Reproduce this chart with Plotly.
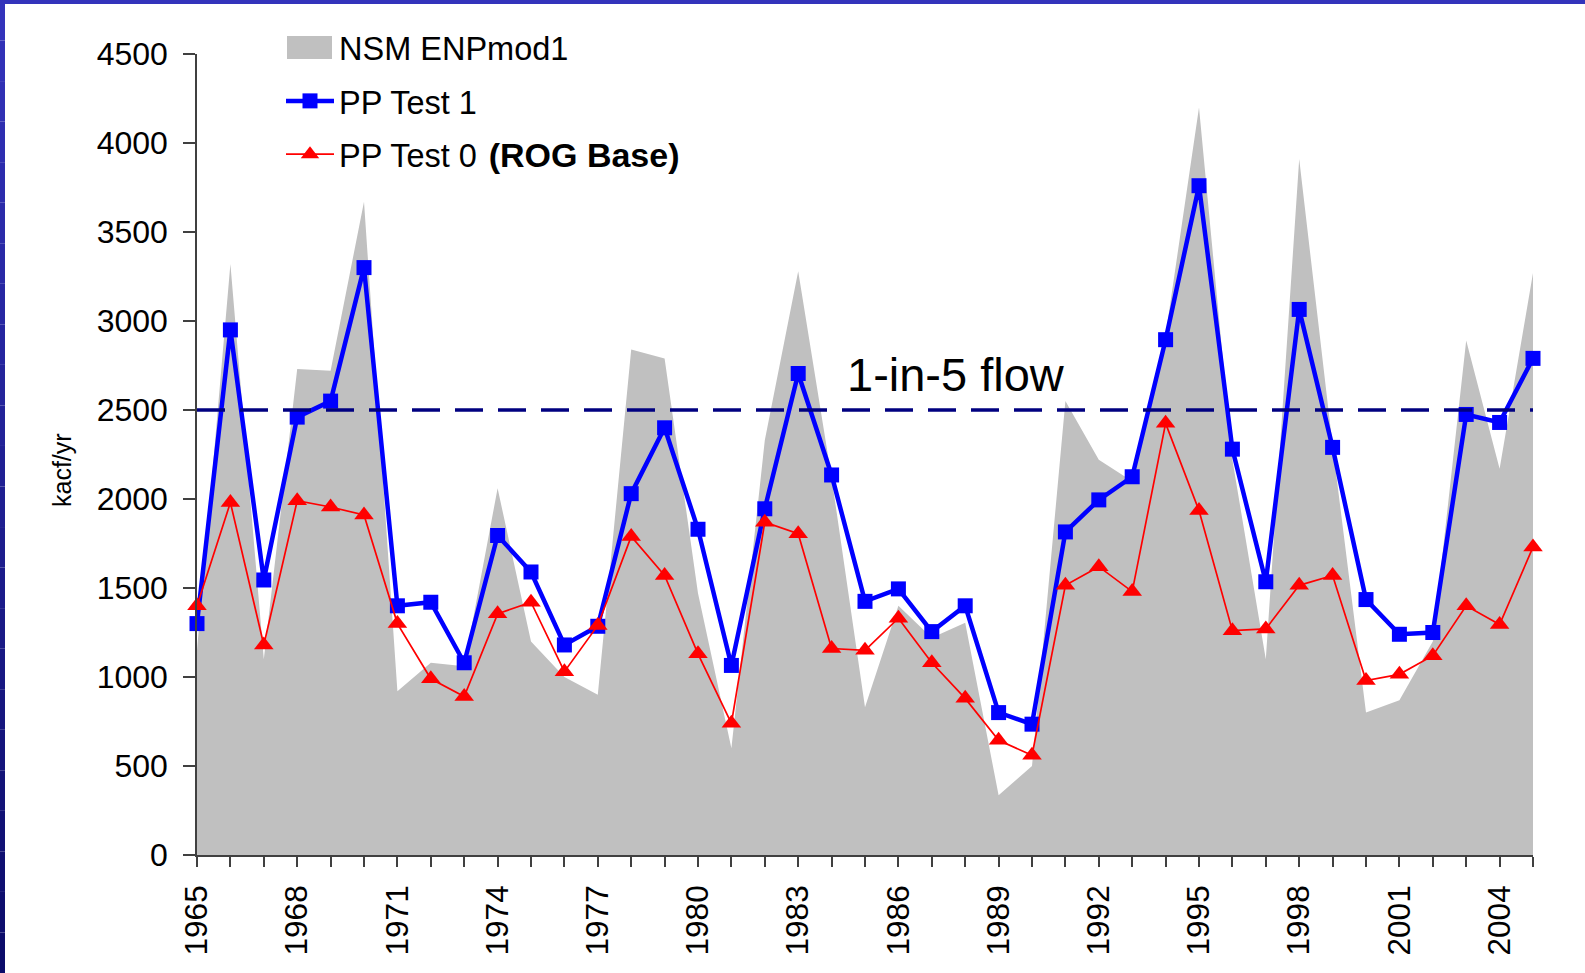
import plotly.graph_objects as go

# ---------------- data ----------------
years = list(range(1965, 2006))

nsm_enpmod1 = [1150, 3320, 1100, 2730, 2720, 3670, 920, 1080, 1060, 2060,
               1200, 1000, 900, 2840, 2790, 1470, 600, 2330, 3280, 2120,
               830, 1400, 1220, 1305, 335, 500, 2550, 2220, 2100, 2920,
               4200, 2220, 1100, 3910, 2300, 800, 870, 1200, 2890, 2170,
               3270]

pp_test1 = [1300, 2950, 1545, 2460, 2550, 3300, 1400, 1420, 1080, 1795,
            1590, 1180, 1285, 2030, 2400, 1830, 1065, 1945, 2705, 2135,
            1425, 1495, 1255, 1400, 800, 735, 1815, 1995, 2125, 2895,
            3760, 2280, 1535, 3065, 2290, 1435, 1240, 1250, 2475, 2430,
            2790]

pp_test0 = [1400, 1980, 1180, 1990, 1955, 1910, 1300, 990, 890, 1355,
            1420, 1030, 1290, 1790, 1570, 1130, 740, 1870, 1805, 1160,
            1150, 1330, 1080, 880, 645, 560, 1515, 1620, 1480, 2425,
            1935, 1260, 1270, 1515, 1570, 980, 1015, 1120, 1400, 1295,
            1730]

flow_1in5 = 2500
y_ticks = list(range(0, 4501, 500))
x_label_years = list(range(1965, 2005, 3))

series_names = ["NSM ENPmod1", "PP Test 1",
                "PP Test 0\u00a0\u200a<span style='font-size:34px'><b>(ROG Base)</b></span>"]

FONT = "Liberation Sans, Arial, sans-serif"
W, H = 1585, 973
ML, MR, MT, MB = 197, 52, 54, 118
PW, PH = W - ML - MR, H - MT - MB


def px_x(p):
    return (p - ML) / PW


def px_y(p):
    return 1 - (p - MT) / PH


fig = go.Figure()

# gray area
fig.add_trace(go.Scatter(
    x=years, y=nsm_enpmod1, mode="none", fill="tozeroy",
    fillcolor="#C0C0C0", showlegend=False, name=series_names[0]))
# legend entry text for the area (swatch drawn as a shape below)
fig.add_trace(go.Scatter(
    x=[None], y=[None], mode="lines", line=dict(color="rgba(0,0,0,0)", width=1),
    name=series_names[0], legendgroup="a"))
# PP Test 1
fig.add_trace(go.Scatter(
    x=years, y=pp_test1, mode="lines+markers", name=series_names[1],
    line=dict(color="#0000FF", width=4.5),
    marker=dict(symbol="square", size=15, color="#0000FF"),
    cliponaxis=False, legendgroup="b"))
# PP Test 0
fig.add_trace(go.Scatter(
    x=years, y=pp_test0, mode="lines+markers", name=series_names[2],
    line=dict(color="#FF0000", width=1.7),
    marker=dict(symbol="triangle-up", size=17, color="#FF0000"),
    cliponaxis=False, legendgroup="c"))

shapes = [dict(type="line", xref="x", yref="y", x0=years[0], x1=years[-1],
               y0=flow_1in5, y1=flow_1in5, layer="above",
               line=dict(color="#000080", width=3.5, dash="28px,15px"))]

# legend swatch for the gray area
shapes.append(dict(type="rect", xref="paper", yref="paper", layer="above",
                   x0=px_x(287), x1=px_x(332), y0=px_y(59), y1=px_y(36),
                   fillcolor="#C0C0C0", line=dict(width=0)))

# page frame (top bar + left gradient bar)
fx0 = px_x(0)
fx1 = px_x(W)
fy_top = px_y(0)
fy_bot = px_y(H)
shapes.append(dict(type="rect", xref="paper", yref="paper", layer="above",
                   x0=fx0, x1=fx1, y0=px_y(4), y1=fy_top,
                   fillcolor="#3333BB", line=dict(width=0)))
n = 24
c0 = (0x33, 0x33, 0xBB)
c1 = (0x0C, 0x0C, 0x6A)
for i in range(n):
    t = i / (n - 1)
    col = "rgb(%d,%d,%d)" % tuple(round(a + (b - a) * t) for a, b in zip(c0, c1))
    ya = fy_top - (fy_top - fy_bot) * i / n
    yb = fy_top - (fy_top - fy_bot) * (i + 1) / n
    shapes.append(dict(type="rect", xref="paper", yref="paper", layer="above",
                       x0=fx0, x1=px_x(5), y0=yb, y1=ya,
                       fillcolor=col, line=dict(width=0)))

annotations = [
    dict(text="1-in-5 flow", x=1987.72, y=2700, xref="x", yref="y",
         showarrow=False, xanchor="center", yanchor="middle",
         font=dict(family=FONT, size=47, color="black")),
    dict(text="kacf/yr", x=px_x(62), y=px_y(470),
         xref="paper", yref="paper", showarrow=False, textangle=-90,
         xanchor="center", yanchor="middle",
         font=dict(family=FONT, size=25, color="black")),
]

fig.update_layout(
    width=W, height=H,
    margin=dict(l=ML, r=MR, t=MT, b=MB, pad=0),
    paper_bgcolor="white", plot_bgcolor="white",
    font=dict(family=FONT, color="black"),
    shapes=shapes, annotations=annotations,
    showlegend=True,
    legend=dict(x=px_x(281), y=px_y(20), xanchor="left",
                yanchor="top", bgcolor="rgba(0,0,0,0)", itemwidth=48,
                tracegroupgap=8, font=dict(family=FONT, size=32.5, color="black"),
                traceorder="grouped"),
    xaxis=dict(range=[years[0], years[-1]], tickmode="array",
               tickvals=x_label_years, ticktext=[str(v) for v in x_label_years],
               tickangle=-90, ticks="outside", ticklen=10, tickwidth=1.5,
               tickcolor="#404040", showline=True, linecolor="#404040",
               linewidth=1.5, showgrid=False, zeroline=False,
               ticklabelstandoff=6,
               tickfont=dict(family=FONT, size=31.5, color="black")),
    yaxis=dict(range=[y_ticks[0], y_ticks[-1]], tickmode="array",
               tickvals=y_ticks, ticks="outside", ticklen=12, tickwidth=1.5,
               tickcolor="#404040", showline=True, linecolor="#404040",
               linewidth=1.5, showgrid=False, zeroline=False,
               ticklabelstandoff=9,
               tickfont=dict(family=FONT, size=32, color="black")),
)
fig.update_xaxes(minor=dict(tickmode="linear", tick0=years[0], dtick=1,
                            ticks="outside", ticklen=10, tickwidth=1.5,
                            tickcolor="#404040", showgrid=False))

fig.write_html("out.html", config={"displayModeBar": False},
               post_script="document.body.style.margin='0';document.body.style.overflow='hidden';")
